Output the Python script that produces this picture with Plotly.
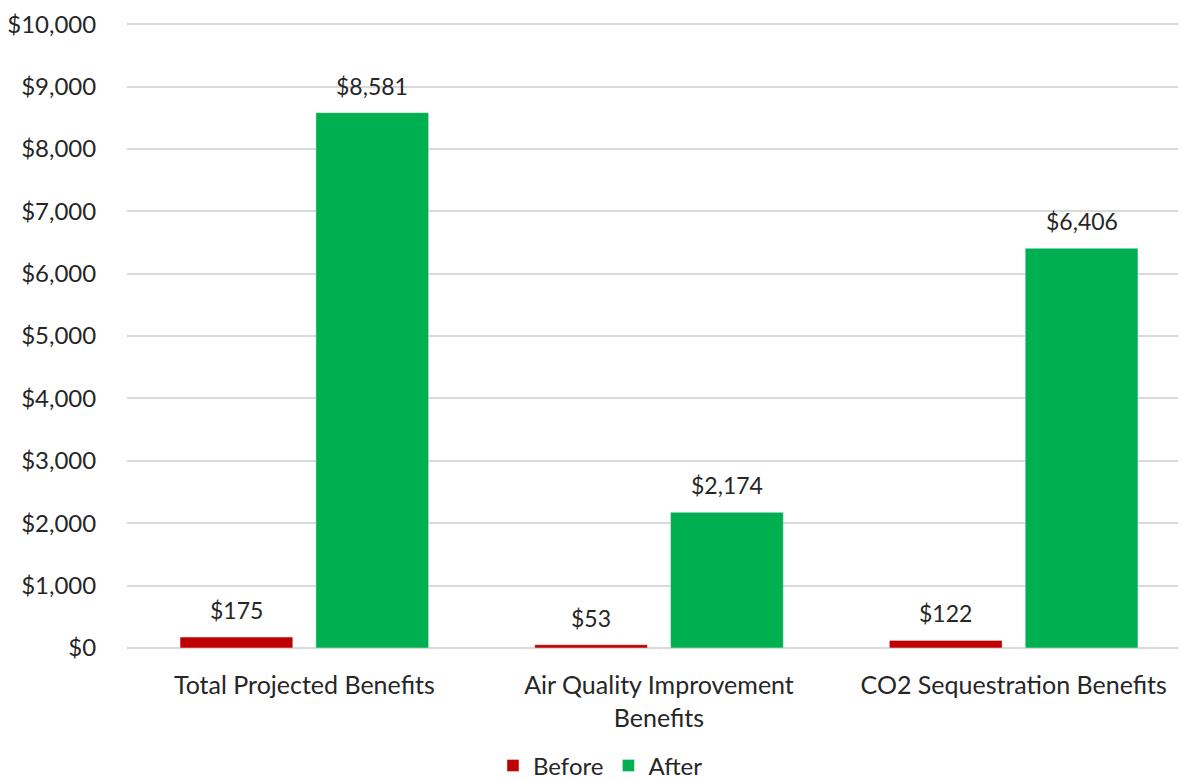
import plotly.graph_objects as go

categories = ["Total Projected Benefits", "Air Quality Improvement<br>Benefits", "CO2 Sequestration Benefits"]
before = [175, 53, 122]
after = [8581, 2174, 6406]
tick_vals = [0, 1000, 2000, 3000, 4000, 5000, 6000, 7000, 8000, 9000, 10000]
tick_text = ["$0", "$1,000", "$2,000", "$3,000", "$4,000", "$5,000", "$6,000", "$7,000", "$8,000", "$9,000", "$10,000"]

FONT = "Lato, Carlito, 'Open Sans', sans-serif"
TXT = "#262626"

fig = go.Figure()
fig.add_trace(go.Bar(name="Before", x=categories, y=before, marker_color="#C00000",
                     offsetgroup="b"))
fig.add_trace(go.Bar(name="After", x=categories, y=after, marker_color="#00B050",
                     offsetgroup="a"))

# data labels as annotations above the bars
for i, cat in enumerate(categories):
    fig.add_annotation(x=i, y=before[i], xref="x", yref="y", text=f"${before[i]:,}",
                       showarrow=False, yanchor="bottom", yshift=11, xshift=-68,
                       font=dict(size=23, color=TXT, family=FONT))
    fig.add_annotation(x=i, y=after[i], xref="x", yref="y", text=f"${after[i]:,}",
                       showarrow=False, yanchor="bottom", yshift=11, xshift=68,
                       font=dict(size=23, color=TXT, family=FONT))

fig.update_layout(
    width=1186, height=781,
    margin=dict(l=119, r=3, t=13, b=141, autoexpand=False),
    paper_bgcolor="white", plot_bgcolor="white",
    barmode="group", bargap=0.234, bargroupgap=0.17,
    font=dict(family=FONT, size=22, color=TXT),
    showlegend=True,
    legend=dict(orientation="h", x=0.445, xanchor="center", xref="paper",
                y=-0.188, yanchor="middle", font=dict(size=24),
                traceorder="normal"),
)
fig.update_yaxes(
    range=[0, 10050], tickvals=tick_vals, ticktext=tick_text, automargin=False,
    showgrid=True, gridcolor="#D9D9D9", gridwidth=1.5, zeroline=True,
    zerolinecolor="#D9D9D9", zerolinewidth=1.5, showline=False,
    ticks="outside", ticklen=25, tickcolor="rgba(0,0,0,0)", tickfont=dict(size=24),
    ticklabeloverflow="allow",
)
fig.update_xaxes(showline=False, automargin=False, ticks="outside", ticklen=15,
                 tickcolor="rgba(0,0,0,0)", tickfont=dict(size=25))

fig.write_html("out.html")
